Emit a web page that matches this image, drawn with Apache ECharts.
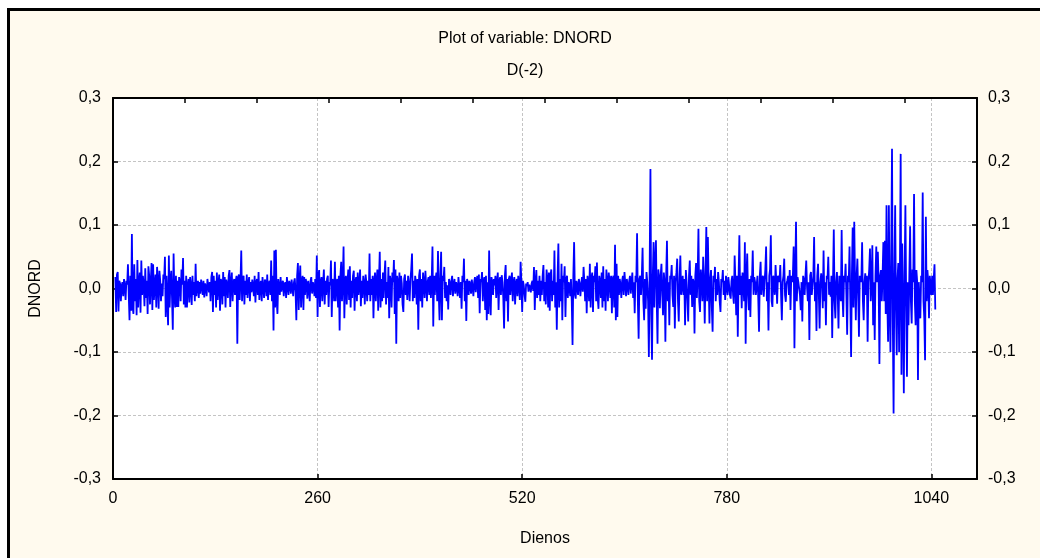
<!DOCTYPE html>
<html>
<head>
<meta charset="utf-8">
<script src="https://cdn.jsdelivr.net/npm/echarts@6/dist/echarts.min.js"></script>
<style>
html,body{margin:0;padding:0;background:#ffffff;}
#chart{width:1040px;height:558px;}
</style>
</head>
<body>
<div id="chart"></div>
<script>
// ---- Data ----
const titleText = "Plot of variable: DNORD";
const subtitleText = "D(-2)";
const xAxisName = "Dienos";
const yAxisName = "DNORD";
const firstDay = 3;            // first observation (day number)
const xTicks = [0, 260, 520, 780, 1040];
const yTicks = [-0.3, -0.2, -0.1, 0.0, 0.1, 0.2, 0.3];

// DNORD values, one per day starting at firstDay
const dnord = [
0.018,-0.037,0.022,0.026,-0.036,0.012,0.008,-0.02,0.004,0.01,-0.012,0.015,0.003,-0.018,0.012,0.006,0.038,-0.01,-0.05,0.02,
-0.035,0.086,-0.03,-0.04,0.038,-0.02,0.015,-0.042,0.045,-0.03,0.01,0.025,-0.038,0.044,-0.01,0.02,0.005,-0.028,0.032,-0.015,
0.012,-0.04,0.035,0.02,-0.025,0.01,0.04,-0.034,0.038,-0.018,0.005,0.022,-0.03,0.034,0.01,-0.032,0.028,0.012,-0.02,0.008,
-0.012,0.022,0.015,0.05,-0.045,0.02,-0.02,-0.058,0.052,-0.03,0.012,0.028,-0.015,-0.065,0.055,-0.01,-0.03,0.02,-0.029,0.012,
-0.029,0.018,0.01,-0.02,0.03,0.006,0.048,-0.025,0.012,-0.03,0.02,-0.03,0.005,0.015,-0.022,0.018,0.003,-0.026,0.02,-0.01,
0.01,-0.02,0.039,-0.012,0.004,0.012,-0.015,0.01,-0.008,0.014,0.004,-0.01,0.012,-0.014,0.008,0.002,-0.012,0.015,0.005,-0.006,
0.01,-0.02,0.018,0.026,-0.037,0.02,-0.01,0.012,-0.03,0.025,-0.018,0.008,0.022,-0.035,0.015,0.01,-0.025,0.026,-0.012,0.018,
-0.03,0.014,0.006,-0.015,0.02,0.029,-0.029,0.01,0.025,-0.02,0.008,0.015,-0.01,0.012,0.02,-0.087,0.015,0.022,-0.018,0.01,
0.06,-0.02,0.015,0.02,-0.025,0.012,-0.01,0.022,-0.015,0.008,0.018,-0.02,0.01,-0.006,0.014,0.004,-0.012,0.02,-0.022,0.01,
0.015,-0.01,0.026,-0.018,0.006,0.012,-0.02,0.018,0.002,-0.015,0.014,0.01,-0.012,0.022,-0.018,0.008,0.012,-0.01,0.044,-0.02,
0.02,-0.066,0.06,-0.03,0.061,-0.02,-0.04,0.015,0.012,-0.01,0.018,-0.005,0.008,0.012,-0.012,0.006,0.01,-0.015,0.018,0.004,
-0.01,0.012,0.006,-0.008,0.014,0.002,-0.012,0.01,0.016,-0.005,-0.05,0.02,0.04,-0.034,0.01,0.036,-0.03,0.012,0.02,-0.034,
0.018,-0.01,0.015,0.006,-0.016,0.012,0.002,-0.02,0.012,0.018,-0.008,0.01,0.004,-0.012,0.015,-0.015,0.052,-0.045,0.02,0.029,
-0.029,0.01,0.018,-0.02,0.008,0.03,-0.025,0.012,-0.01,0.015,0.02,-0.029,0.01,0.005,0.044,-0.045,0.015,0.01,-0.02,0.042,
-0.02,0.008,0.015,-0.03,0.02,-0.066,0.02,0.042,-0.02,0.01,0.066,-0.047,0.012,0.02,-0.025,0.01,0.03,-0.018,0.035,-0.03,
0.012,-0.015,0.02,0.028,-0.035,0.01,0.018,-0.02,0.025,-0.01,0.005,0.03,-0.028,0.012,-0.015,0.02,0.008,-0.025,0.022,0.01,
-0.02,0.012,-0.01,0.055,-0.02,0.015,-0.01,0.02,-0.047,0.01,0.025,-0.02,0.012,0.03,-0.035,0.012,0.058,-0.03,0.015,-0.02,
0.025,-0.015,0.02,0.044,-0.025,0.01,-0.015,0.034,-0.047,0.02,0.012,-0.03,0.025,0.01,0.045,-0.04,0.03,-0.087,0.02,0.01,
-0.02,0.025,-0.015,0.02,0.008,-0.025,-0.037,0.015,0.022,-0.01,0.012,-0.018,0.02,0.005,-0.02,0.015,0.03,0.055,-0.02,0.012,
-0.015,0.02,0.01,-0.025,0.015,-0.065,0.02,0.03,-0.02,0.015,-0.03,0.025,0.01,-0.015,0.028,0.005,-0.02,0.012,0.018,-0.01,
0.02,-0.015,0.012,0.066,-0.06,0.02,-0.01,0.015,0.025,-0.02,0.059,-0.01,-0.05,0.02,0.058,-0.05,0.02,0.012,0.034,-0.015,
0.01,-0.02,0.005,-0.033,0.015,0.008,-0.01,0.012,0.02,-0.012,0.006,0.015,-0.008,0.01,0.004,-0.012,0.018,0.002,-0.015,0.01,
-0.032,0.02,0.01,0.047,-0.02,0.012,-0.051,0.015,0.008,-0.01,0.012,0.006,-0.008,0.014,0.002,-0.012,0.01,0.018,-0.006,0.012,
0.02,-0.015,0.022,-0.039,0.015,0.01,0.026,-0.02,0.012,0.018,-0.034,0.02,-0.05,0.01,-0.04,0.06,-0.015,-0.042,0.018,0.01,
-0.01,0.015,0.005,0.02,-0.015,0.01,0.025,-0.034,0.012,0.018,-0.01,0.021,0.01,-0.015,-0.063,0.02,0.037,-0.02,0.015,-0.052,
0.015,0.02,-0.01,0.012,0.025,-0.02,0.01,0.018,-0.025,0.008,0.015,-0.012,0.02,0.005,-0.018,0.042,0.01,-0.037,0.012,0.005,
-0.01,-0.021,0.008,0.004,0.01,-0.005,0.006,0.002,-0.006,0.008,0.012,-0.004,0.034,-0.034,0.01,0.029,-0.015,0.012,-0.01,0.02,
-0.02,0.012,-0.01,0.02,0.037,-0.02,0.01,-0.025,0.03,0.015,-0.03,0.025,-0.035,0.02,0.03,-0.02,0.012,-0.01,0.06,-0.03,
0.01,-0.065,0.02,0.071,-0.03,0.015,-0.02,0.039,-0.05,0.02,0.01,0.035,-0.045,0.015,0.02,-0.015,0.01,0.005,-0.012,0.015,
-0.02,-0.089,0.02,0.073,-0.01,-0.016,0.012,0.005,-0.01,0.015,0.008,-0.012,0.006,0.018,-0.005,0.034,0.012,-0.02,0.015,-0.039,
0.02,0.01,-0.02,0.039,-0.03,0.015,0.025,-0.037,0.02,0.01,0.035,-0.02,0.041,-0.015,-0.032,0.02,0.012,-0.015,0.025,-0.03,
0.035,-0.02,0.015,-0.035,0.03,0.01,-0.02,0.025,0.012,-0.015,0.02,-0.039,0.015,0.02,-0.03,0.069,-0.05,0.039,-0.045,0.02,
-0.01,0.015,0.005,-0.015,0.012,0.02,-0.01,0.026,0.008,-0.012,0.015,0.004,-0.01,0.012,0.02,-0.008,0.01,0.025,-0.015,0.01,
-0.039,0.02,0.01,0.087,-0.02,-0.079,0.015,0.02,-0.01,0.018,0.064,-0.02,-0.05,0.015,-0.032,0.026,0.01,-0.02,-0.108,0.03,
0.188,-0.04,-0.112,0.02,0.073,-0.03,0.04,0.076,-0.02,-0.087,0.03,0.018,-0.031,0.02,0.039,-0.01,-0.042,0.025,0.01,-0.084,
0.02,0.075,-0.02,0.01,-0.058,0.02,0.015,0.037,-0.01,-0.029,0.02,-0.063,0.01,0.025,0.047,-0.02,-0.052,0.015,0.052,-0.01,
0.003,0.02,-0.01,0.015,-0.058,0.029,0.01,-0.02,-0.052,0.02,0.044,-0.01,0.02,-0.029,0.015,0.01,-0.071,0.02,0.04,-0.015,
0.02,0.094,-0.02,-0.037,0.03,0.015,-0.02,0.05,0.01,-0.055,0.02,0.097,-0.02,0.081,0.01,-0.055,0.015,0.029,-0.03,-0.068,
0.02,0.01,0.034,-0.02,0.015,-0.01,0.026,0.01,-0.02,-0.037,0.015,0.01,0.029,-0.01,0.012,-0.018,0.02,0.005,-0.01,0.018,
0.005,-0.01,-0.016,0.012,0.02,-0.01,-0.024,0.052,0.01,-0.042,0.02,-0.076,0.015,0.084,-0.01,0.02,-0.031,0.025,0.015,-0.02,
0.073,-0.087,0.02,0.055,-0.01,-0.034,0.015,-0.045,0.02,0.01,0.06,-0.01,0.018,0.01,-0.01,0.005,0.02,-0.015,-0.068,0.02,
0.042,-0.01,0.015,0.02,-0.013,0.01,0.03,0.066,-0.02,0.01,-0.066,0.02,0.03,0.084,-0.02,-0.029,0.02,0.015,-0.01,0.037,
0.01,-0.024,0.02,0.015,0.01,0.037,-0.01,-0.05,0.01,0.02,0.047,-0.01,-0.021,0.008,0.013,0.02,-0.01,0.029,-0.034,0.02,
0.01,0.02,0.066,-0.094,0.02,0.105,-0.02,0.018,0.01,0.013,-0.01,-0.034,0.01,-0.052,0.02,0.013,-0.01,0.02,0.044,0.003,
-0.02,0.01,-0.081,0.02,0.026,-0.01,-0.013,0.02,0.081,-0.02,0.01,-0.067,0.02,0.039,-0.01,-0.063,0.01,0.024,0.01,-0.031,
0.06,-0.02,0.01,-0.058,0.02,0.015,0.05,-0.01,0.01,-0.013,0.02,-0.078,0.01,0.093,-0.02,-0.047,0.01,0.026,-0.01,-0.063,
0.02,0.01,-0.02,0.092,-0.01,-0.045,0.02,0.01,0.039,-0.01,-0.073,0.02,0.01,0.066,-0.02,-0.108,0.02,0.096,-0.03,0.105,
0.01,-0.05,0.02,0.047,-0.01,-0.076,0.02,0.018,0.01,0.073,-0.02,-0.05,0.01,0.024,-0.01,0.02,-0.084,0.01,0.03,0.063,
-0.02,0.01,0.068,-0.058,0.01,-0.081,0.02,0.066,0.01,0.058,0.01,-0.119,0.02,0.029,-0.02,0.02,0.073,-0.02,0.075,-0.04,
0.131,-0.02,-0.084,0.131,-0.03,-0.1,0.05,0.22,-0.05,-0.197,0.02,0.131,-0.03,-0.105,0.016,0.04,-0.1,0.02,0.212,-0.136,
0.071,-0.03,-0.165,0.02,0.131,-0.02,-0.139,0.01,-0.058,0.02,0.098,-0.02,-0.055,0.03,0.01,0.149,-0.02,-0.058,0.029,0.01,
-0.144,0.01,0.011,-0.047,0.02,0.01,0.151,-0.02,-0.047,-0.113,0.113,-0.02,0.029,0.01,-0.047,0.02,0.021,-0.01,0.02,-0.01,
0.015,0.038,-0.033
];

// ---- Chart ----
const FONT = "'Liberation Sans', Arial, sans-serif";
const FS = 16;
const seriesData = dnord.map((v, i) => [firstDay + i, v]);
const fmtY = v => (Math.abs(v) < 1e-9 ? 0 : v).toFixed(1).replace('.', ',');
const frameLine = {show: true, onZero: false, lineStyle: {color: '#000', width: 2}};
const inTick = {show: true, inside: true, length: 5, lineStyle: {color: '#000', width: 1.5}};
const gridDash = {show: true, showMinLine: false, showMaxLine: false,
                  lineStyle: {color: '#c4c4c4', type: [3, 2], width: 1}};

const chart = echarts.init(document.getElementById('chart'), null, {renderer: 'canvas'});
chart.setOption({
  animation: false,
  backgroundColor: 'transparent',
  textStyle: {fontFamily: FONT, color: '#000'},
  graphic: [
    {type: 'rect', z: -10, silent: true,
     shape: {x: 8.5, y: 9.5, width: 1200, height: 700},
     style: {fill: '#FFFAEE', stroke: '#000', lineWidth: 3}}
  ],
  title: [
    {text: titleText, left: 525, top: 31, textAlign: 'center', padding: 0,
     textStyle: {fontFamily: FONT, fontSize: FS, fontWeight: 'normal', color: '#000'}},
    {text: subtitleText, left: 525, top: 63, textAlign: 'center', padding: 0,
     textStyle: {fontFamily: FONT, fontSize: FS, fontWeight: 'normal', color: '#000'}}
  ],
  grid: {left: 113, right: 63, top: 98, bottom: 79, show: true,
         backgroundColor: '#ffffff', borderWidth: 0},
  xAxis: [
    {type: 'value', min: 0, max: 1098, interval: 260, position: 'bottom',
     name: xAxisName, nameLocation: 'middle', nameGap: 52,
     nameTextStyle: {fontFamily: FONT, fontSize: FS, color: '#000'},
     axisLine: frameLine, axisTick: inTick,
     axisLabel: {show: true, margin: 12, fontFamily: FONT, fontSize: FS, color: '#000',
                 showMaxLabel: false,
                 formatter: v => (xTicks.indexOf(v) >= 0 ? String(v) : '')},
     splitLine: gridDash},
    {type: 'value', min: 0, max: 12, interval: 1, position: 'top',
     axisLine: frameLine, axisTick: inTick,
     axisLabel: {show: false}, splitLine: {show: false}}
  ],
  yAxis: [
    {type: 'value', min: -0.3, max: 0.3, interval: 0.1, position: 'left',
     name: yAxisName, nameLocation: 'middle', nameGap: 69, nameRotate: 90,
     nameTextStyle: {fontFamily: FONT, fontSize: FS, color: '#000'},
     axisLine: frameLine, axisTick: inTick,
     axisLabel: {margin: 12, fontFamily: FONT, fontSize: FS, color: '#000', formatter: fmtY},
     splitLine: gridDash},
    {type: 'value', min: -0.3, max: 0.3, interval: 0.1, position: 'right',
     axisLine: frameLine, axisTick: inTick,
     axisLabel: {margin: 11, fontFamily: FONT, fontSize: FS, color: '#000', formatter: fmtY},
     splitLine: {show: false}}
  ],
  series: [{
    type: 'line', xAxisIndex: 0, yAxisIndex: 0,
    data: seriesData, showSymbol: false, symbol: 'none', sampling: null,
    lineStyle: {color: '#0000FF', width: 1.8}, itemStyle: {color: '#0000FF'},
    silent: true
  }]
});
</script>
</body>
</html>
